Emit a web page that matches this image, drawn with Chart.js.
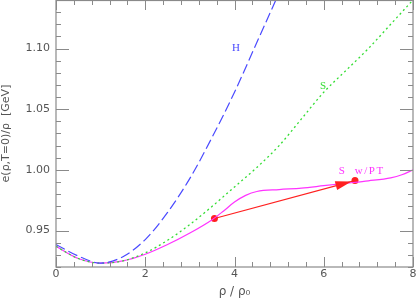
<!DOCTYPE html>
<html>
<head>
<meta charset="utf-8">
<script src="https://cdn.jsdelivr.net/npm/chart.js@4/dist/chart.umd.min.js"></script>
<style>
  html, body { margin: 0; padding: 0; background: #fff; }
  #wrap { width: 419px; height: 299px; }
</style>
</head>
<body>
<div id="wrap"><canvas id="myChart" width="419" height="299"></canvas></div>
<script>
// values
var rhoH = [0, 0.5, 1, 1.5, 2, 2.5, 3, 3.5, 4, 4.5, 5];
var eH   = [0.9385, 0.929, 0.9232, 0.9285, 0.9426, 0.965, 0.993, 1.027, 1.064, 1.105, 1.146];

var rhoS = [0, 0.5, 1, 1.5, 2, 2.5, 3, 3.5, 4, 4.5, 5, 5.5, 6, 6.5, 7, 7.5, 8];
var eS   = [0.937, 0.927, 0.9232, 0.925, 0.9316, 0.942, 0.955, 0.970, 0.986, 1.002, 1.020, 1.042, 1.064, 1.082, 1.100, 1.120, 1.140];

var rhoPT = [0, 0.5, 1, 1.5, 2, 2.5, 3, 3.5, 3.75, 4, 4.25, 4.5, 5, 5.5, 6, 6.5, 7, 7.5, 7.75, 8];
var ePT   = [0.937, 0.927, 0.9232, 0.925, 0.9305, 0.9385, 0.948, 0.959, 0.966, 0.9735, 0.979, 0.9822, 0.9838, 0.985, 0.987, 0.989, 0.991, 0.9935, 0.996, 1.000];

// transition arrow (start, end) and where its head tip sits
var arrowRho = [3.55, 6.70];
var arrowE   = [0.960, 0.9912];
var arrowTipRho = 6.62;

var xTicks = [0, 2, 4, 6, 8];
var yTicks = [0.95, 1.00, 1.05, 1.10];

var noteText = ['H', 'S', 'S  w/PT'];
var noteRho  = [4.05, 6.0, 6.85];
var noteE    = [1.100, 1.0694, 0.9994];
var noteColor = ['#4a4aff', '#33dd33', '#ff33ff'];

function pts(xs, ys) {
    return xs.map(function(v, i){ return {x: v, y: ys[i]}; });
}

// box + inward ticks, arrow head, curve labels
var decor = {
    id: 'decor',
    afterDatasetsDraw: function(chart) {
        var ctx = chart.ctx, a = chart.chartArea;
        var x = chart.scales.x, y = chart.scales.y;
        ctx.save();
        ctx.strokeStyle = '#8a8a8a';
        ctx.lineWidth = 1.2;
        ctx.strokeRect(a.left, a.top + 0.5, a.right - a.left, a.bottom - a.top - 0.5);
        ctx.lineWidth = 1;
        for (var i = 0; i <= 20; i++) {
            var px = Math.round(x.getPixelForValue(i * 0.4)) + 0.5;
            var len = (i % 5 == 0) ? 10 : 5;
            ctx.beginPath();
            ctx.moveTo(px, a.bottom); ctx.lineTo(px, a.bottom - len);
            ctx.moveTo(px, a.top); ctx.lineTo(px, a.top + len);
            ctx.stroke();
        }
        for (var j = 0; j <= 22; j++) {
            var py = Math.round(y.getPixelForValue(0.92 + j * 0.01)) + 0.5;
            var l2 = (j % 5 == 3) ? 13 : 5;
            ctx.beginPath();
            ctx.moveTo(a.left, py); ctx.lineTo(a.left + l2, py);
            ctx.moveTo(a.right, py); ctx.lineTo(a.right - l2, py);
            ctx.stroke();
        }

        // arrow head
        var x0 = x.getPixelForValue(arrowRho[0]), y0 = y.getPixelForValue(arrowE[0]);
        var x1 = x.getPixelForValue(arrowRho[1]), y1 = y.getPixelForValue(arrowE[1]);
        var ang = Math.atan2(y1 - y0, x1 - x0);
        var t = (arrowTipRho - arrowRho[0]) / (arrowRho[1] - arrowRho[0]);
        var tx = x0 + (x1 - x0) * t, ty = y0 + (y1 - y0) * t;
        ctx.fillStyle = '#ff2020';
        ctx.beginPath();
        ctx.moveTo(tx, ty);
        ctx.lineTo(tx - 16 * Math.cos(ang) - 4.5 * Math.sin(ang), ty - 16 * Math.sin(ang) + 4.5 * Math.cos(ang));
        ctx.lineTo(tx - 16 * Math.cos(ang) + 4.5 * Math.sin(ang), ty - 16 * Math.sin(ang) - 4.5 * Math.cos(ang));
        ctx.closePath();
        ctx.fill();

        ctx.font = '11px "Liberation Serif"';
        ctx.letterSpacing = '1.5px';
        ctx.textAlign = 'center';
        ctx.textBaseline = 'middle';
        noteText.forEach(function(s, k){
            ctx.fillStyle = noteColor[k];
            ctx.fillText(s, x.getPixelForValue(noteRho[k]), y.getPixelForValue(noteE[k]));
        });
        ctx.restore();
    }
};

var ctx = document.getElementById('myChart').getContext('2d');
var chart = new Chart(ctx, {
    type: 'line',
    data: {
        datasets: [{
            label: 'H',
            data: pts(rhoH, eH),
            borderColor: '#4a4aff',
            borderWidth: 1.2,
            borderDash: [10, 4],
            pointRadius: 0,
            cubicInterpolationMode: 'monotone'
        }, {
            label: 'S',
            data: pts(rhoS, eS),
            borderColor: '#33dd33',
            borderWidth: 1.3,
            borderDash: [2, 3],
            pointRadius: 0,
            cubicInterpolationMode: 'monotone'
        }, {
            label: 'S w/PT',
            data: pts(rhoPT, ePT),
            borderColor: '#ff33ff',
            borderWidth: 1.2,
            pointRadius: 0,
            cubicInterpolationMode: 'monotone'
        }, {
            label: 'transition',
            data: pts(arrowRho, arrowE),
            borderColor: '#ff2020',
            backgroundColor: '#ff2020',
            borderWidth: 1.2,
            pointRadius: 3.5,
            pointBorderWidth: 0,
            tension: 0
        }]
    },
    options: {
        responsive: false,
        animation: false,
        layout: { autoPadding: false, padding: { top: 0, right: 6, left: 0, bottom: 0 } },
        plugins: { legend: { display: false }, tooltip: { enabled: false } },
        scales: {
            x: {
                type: 'linear',
                min: 0, max: 8,
                afterBuildTicks: function(s){ s.ticks = xTicks.map(function(v){ return {value: v}; }); },
                afterFit: function(s){ s.height = 32; s.paddingLeft = 0; s.paddingRight = 0; },
                grid: { display: false, drawTicks: false },
                border: { display: false },
                ticks: { padding: 1, color: '#555', font: { family: 'DejaVu Sans', size: 11 } },
                title: { display: true, text: 'ρ / ρ₀', color: '#555', padding: 0,
                         font: { family: 'DejaVu Sans', size: 12 } }
            },
            y: {
                min: 0.92, max: 1.14,
                afterBuildTicks: function(s){ s.ticks = yTicks.map(function(v){ return {value: v}; }); },
                afterFit: function(s){ s.width = 56; s.paddingTop = 0; s.paddingBottom = 0; },
                grid: { display: false, drawTicks: false },
                border: { display: false },
                ticks: { padding: 6, color: '#555', font: { family: 'DejaVu Sans', size: 11 },
                         callback: function(v){ return v.toFixed(2); } },
                title: { display: true, text: 'e(ρ,T=0)/ρ  [GeV]', color: '#555', padding: 0,
                         font: { family: 'DejaVu Sans', size: 11 } }
            }
        }
    },
    plugins: [decor]
});
</script>
</body>
</html>
